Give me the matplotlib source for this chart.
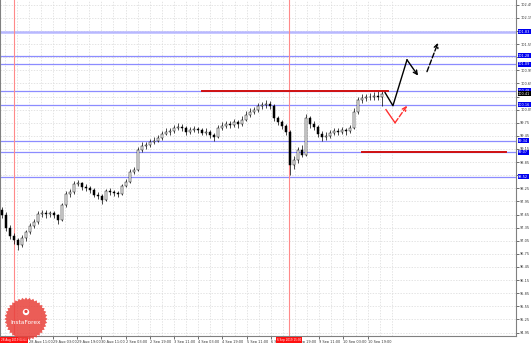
import numpy as np
import matplotlib.pyplot as plt
from matplotlib.patches import Polygon, Circle
from matplotlib.transforms import blended_transform_factory

# hourly chart, candles resampled (about one every 2.6 h)
first_open = 97.76
closes = [97.64, 97.34, 97.16, 97.07, 96.95, 97.11, 97.25, 97.39, 97.48, 97.66,
          97.69, 97.66, 97.69, 97.64, 97.53, 97.87, 98.12, 98.17, 98.35, 98.37,
          98.28, 98.26, 98.21, 98.10, 98.08, 97.98, 98.19, 98.17, 98.14, 98.12,
          98.31, 98.40, 98.63, 98.67, 99.13, 99.22, 99.24, 99.31, 99.34, 99.40,
          99.50, 99.54, 99.56, 99.63, 99.66, 99.63, 99.54, 99.59, 99.61, 99.59,
          99.52, 99.54, 99.47, 99.43, 99.63, 99.68, 99.72, 99.70, 99.77, 99.72,
          99.82, 99.93, 100.00, 100.05, 100.14, 100.16, 100.18, 100.14, 99.86, 99.77,
          99.68, 99.54, 98.79, 98.90, 99.13, 99.02, 99.86, 99.72, 99.66, 99.50,
          99.43, 99.45, 99.52, 99.56, 99.54, 99.59, 99.56, 99.63, 100.00, 100.27,
          100.32, 100.34, 100.34, 100.37, 100.34, 100.41]
highs = [97.82, 97.70, 97.40, 97.22, 97.12, 97.18, 97.30, 97.45, 97.55, 97.74,
         97.76, 97.75, 97.74, 97.72, 97.66, 97.92, 98.18, 98.24, 98.42, 98.45,
         98.40, 98.34, 98.30, 98.25, 98.16, 98.12, 98.24, 98.26, 98.22, 98.20,
         98.36, 98.46, 98.70, 98.74, 99.20, 99.30, 99.32, 99.38, 99.42, 99.46,
         99.56, 99.62, 99.64, 99.70, 99.74, 99.72, 99.68, 99.66, 99.68, 99.66,
         99.62, 99.62, 99.58, 99.52, 99.70, 99.76, 99.80, 99.78, 99.84, 99.82,
         99.90, 100.02, 100.08, 100.12, 100.20, 100.22, 100.26, 100.24, 100.18, 99.90,
         99.82, 99.72, 99.58, 99.00, 99.20, 99.24, 99.96, 99.90, 99.78, 99.70,
         99.56, 99.54, 99.58, 99.62, 99.62, 99.66, 99.64, 99.70, 100.08, 100.34,
         100.40, 100.42, 100.44, 100.46, 100.48, 100.50]
lows = [97.58, 97.28, 97.10, 96.98, 96.84, 96.90, 97.05, 97.20, 97.35, 97.44,
        97.60, 97.58, 97.60, 97.58, 97.44, 97.50, 97.82, 98.06, 98.12, 98.30,
        98.22, 98.18, 98.14, 98.04, 98.00, 97.90, 97.96, 98.10, 98.08, 98.06,
        98.10, 98.28, 98.38, 98.58, 98.64, 99.08, 99.14, 99.20, 99.26, 99.30,
        99.36, 99.46, 99.48, 99.52, 99.58, 99.56, 99.48, 99.50, 99.54, 99.52,
        99.46, 99.46, 99.40, 99.34, 99.40, 99.58, 99.64, 99.62, 99.66, 99.64,
        99.68, 99.78, 99.88, 99.94, 100.00, 100.06, 100.08, 100.06, 99.80, 99.70,
        99.60, 99.46, 98.56, 98.70, 98.84, 98.96, 99.00, 99.64, 99.58, 99.42,
        99.34, 99.36, 99.40, 99.46, 99.48, 99.50, 99.48, 99.52, 99.60, 99.96,
        100.20, 100.24, 100.26, 100.28, 100.26, 100.14]

# time axis in hours (bars) from the left edge
tick_pos = [19 + 16 * k for k in range(15)]
tick_labels = ["28 Aug 11:00", "29 Aug 03:00", "29 Aug 19:00", "30 Aug 11:00",
               "2 Sep 03:00", "2 Sep 19:00", "3 Sep 11:00", "4 Sep 03:00",
               "4 Sep 19:00", "5 Sep 11:00", "6 Sep 03:00", "6 Sep 19:00",
               "9 Sep 11:00", "10 Sep 03:00", "10 Sep 19:00"]
price_ticks = [94.95, 95.25, 95.55, 95.85, 96.15, 96.45, 96.75, 97.05, 97.35,
               97.65, 97.95, 98.25, 98.55, 98.85, 99.15, 99.45, 99.75, 100.05,
               100.35, 100.65, 100.95, 101.25, 101.55, 101.85, 102.15, 102.45]

# drawn levels and marks
blue_levels = [101.83, 101.28, 101.09, 100.48, 100.16, 99.34, 99.07, 98.52]
current_price = 100.41
red_segments = [(133.5, 256.5, 100.48), (239.0, 334.5, 99.07)]
vlines = [(9.25, "28 Aug 2019 00:00"), (191.0, "6 Sep 2019 15:30")]
arrow_solid_x = [254.5, 259.7, 269.0, 276.3]
arrow_solid_y = [100.44, 100.14, 101.19, 100.83]
arrow_dash_x = [282.2, 289.5]
arrow_dash_y = [100.92, 101.58]
red_arrow_x = [255.1, 261.1, 269.0]
red_arrow_y = [100.05, 99.75, 100.14]

W, H = 531, 343
fig = plt.figure(figsize=(W / 100, H / 100), dpi=100)
ax = fig.add_axes([0, 7 / H, 516 / W, 336 / H])
ax.set_xlim(0, 516 / 1.513)
ax.set_ylim(94.87, 102.56)

# grid
for k in range(-3, 31):
    ax.axvline(19 + 8 * k, color="#d9d9d9", lw=0.5, ls=(0, (2, 2)), zorder=0)
for p in price_ticks:
    ax.axhline(p, color="#d9d9d9", lw=0.5, ls=(0, (2, 2)), zorder=0)

# levels
for i, lv in enumerate(blue_levels):
    if i == 0:
        ax.axhline(lv, color="#b8b8ff", lw=1.8, zorder=1)
    else:
        ax.axhline(lv, color="#8c8cff", lw=0.9, zorder=1)
for xv, _ in vlines:
    ax.axvline(xv, color="#ff8a8a", lw=0.8, zorder=1)

# candles
step = 4 / 1.513
x0 = 2 / 1.513
opens = [first_open] + closes[:-1]
for i, (o, c, h, l) in enumerate(zip(opens, closes, highs, lows)):
    x = x0 + i * step
    ax.vlines(x, l, h, color="black", lw=0.5, zorder=3)
    bot, top = min(o, c), max(o, c)
    fc = "white" if c >= o else "black"
    ax.bar(x, max(top - bot, 0.01), bottom=bot, width=1.1, color=fc,
           edgecolor="black", linewidth=0.35, zorder=4)

for xa, xb, lv in red_segments:
    ax.plot([xa, xb], [lv, lv], color="#d01010", lw=1.4, zorder=5)

# projection arrows
ax.plot(arrow_solid_x[:-1], arrow_solid_y[:-1], color="black", lw=1.0, zorder=6)
ax.annotate("", xy=(arrow_solid_x[-1], arrow_solid_y[-1]),
            xytext=(arrow_solid_x[-2], arrow_solid_y[-2]),
            arrowprops=dict(arrowstyle="->", color="black", lw=1.0,
                            mutation_scale=7, shrinkA=0, shrinkB=0), zorder=6)
ax.annotate("", xy=(arrow_dash_x[1], arrow_dash_y[1]),
            xytext=(arrow_dash_x[0], arrow_dash_y[0]),
            arrowprops=dict(arrowstyle="->", color="black", lw=1.0, ls="--",
                            mutation_scale=7, shrinkA=0, shrinkB=0), zorder=6)
ax.plot(red_arrow_x[:2], red_arrow_y[:2], color="#ff3030", lw=1.0, zorder=6)
ax.annotate("", xy=(red_arrow_x[2], red_arrow_y[2]),
            xytext=(red_arrow_x[1], red_arrow_y[1]),
            arrowprops=dict(arrowstyle="->", color="#ff3030", lw=1.0, ls="--",
                            mutation_scale=7, shrinkA=0, shrinkB=0), zorder=6)

# axes styling
ax.spines["top"].set_visible(False)
for s in ["left", "right", "bottom"]:
    ax.spines[s].set_color("#808080")
    ax.spines[s].set_linewidth(0.8)
ax.yaxis.tick_right()
ax.set_yticks(price_ticks)
# the price tags sit on top of the scale labels they cover
tags = blue_levels + [current_price]
ax.set_yticklabels(["" if min(abs(p - t) for t in tags) < 0.07 else f"{p:.2f}"
                    for p in price_ticks])
ax.set_xticks(tick_pos)
ax.set_xticklabels(tick_labels, ha="left")
ax.tick_params(axis="both", labelsize=2.5, length=2, width=0.5, pad=1,
               colors="#333333")

# price tags on the right axis
ytr = blended_transform_factory(ax.transAxes, ax.transData)
for lv in blue_levels:
    ax.text(1.004, lv, f"{lv:.2f}", transform=ytr, fontsize=2.5, color="white",
            va="center", ha="left", clip_on=False, zorder=10,
            bbox=dict(boxstyle="square,pad=0.15", fc="#0000ee", ec="none"))
ax.text(1.004, current_price, f"{current_price:.2f}", transform=ytr, fontsize=2.5,
        color="white", va="center", ha="left", clip_on=False, zorder=10,
        bbox=dict(boxstyle="square,pad=0.15", fc="black", ec="none"))

# date tags on the time axis
xtr = blended_transform_factory(ax.transData, ax.transAxes)
for xv, txt in vlines:
    ax.text(xv, -0.006, txt, transform=xtr, fontsize=2.0, color="white",
            va="top", ha="center", clip_on=False, zorder=10,
            bbox=dict(boxstyle="square,pad=0.3", fc="#ff1010", ec="none"))

# InstaForex badge
ov = fig.add_axes([0, 0, 1, 1], zorder=5)
ov.set_xlim(0, W)
ov.set_ylim(H, 0)
ov.axis("off")
ov.patch.set_alpha(0)
cx, cy = 26, 319
ang = np.linspace(0, 2 * np.pi, 73)[:-1]
rad = np.where(np.arange(72) % 2 == 0, 21.5, 19.5)
ov.add_patch(Polygon(np.column_stack([cx + rad * np.cos(ang), cy + rad * np.sin(ang)]),
                     closed=True, fc="#e8403a", ec="none", alpha=0.85))
ov.add_patch(Circle((cx, cy - 7), 3.2, fc="white", ec="none"))
ov.add_patch(Circle((cx, cy - 7.6), 1.6, fc="#e8403a", ec="none"))
ov.text(cx, cy + 3, "InstaForex", color="white", fontsize=4.2, ha="center",
        va="center")

fig.savefig("out.png", dpi=100)
